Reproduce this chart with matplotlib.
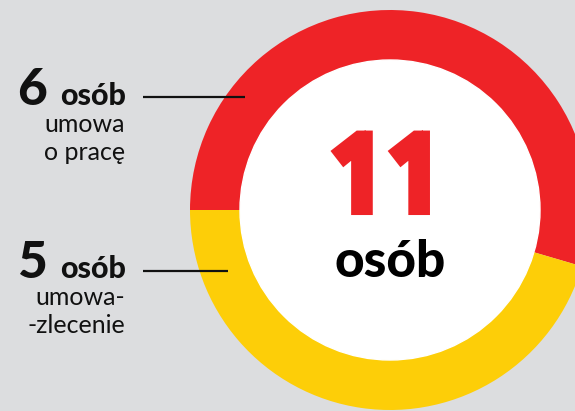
import matplotlib
matplotlib.use('Agg')
import matplotlib.pyplot as plt
import matplotlib.patheffects as pe
from matplotlib.patches import Circle

# data
values = [6, 5]
colors = ['#ee2327', '#fdce08']
unit = 'osób'
descriptions = ['umowa\no pracę', 'umowa-\n-zlecenie']
total = sum(values)

BG = '#dcdddf'
W, H = 575, 411
cx, cy = 390, H - 210
r_out, r_in = 200, 150

plt.rcParams['font.family'] = ['Lato', 'DejaVu Sans']

fig = plt.figure(figsize=(W / 100, H / 100), dpi=100, facecolor=BG)
ax = fig.add_axes([0, 0, 1, 1])
ax.set_facecolor(BG)

ax.pie(values, colors=colors, startangle=180, counterclock=False,
       center=(cx, cy), radius=r_out, wedgeprops=dict(linewidth=0))
ax.add_patch(Circle((cx, cy), r_in, color='white', zorder=3))

ax.set_xlim(0, W)
ax.set_ylim(0, H)
ax.set_aspect('equal')
ax.axis('off')

# centre text (regular face thickened with a stroke)
ax.text(cx - 2, H - 208.5, str(total), color=colors[0], fontsize=72,
        family=['Noto Sans', 'DejaVu Sans'],
        ha='center', va='baseline', zorder=4,
        path_effects=[pe.withStroke(linewidth=9.4, foreground=colors[0],
                                    capstyle='butt', joinstyle='miter')])
ax.text(cx, H - 277, unit, color='black', fontsize=37,
        fontweight='black', ha='center', va='baseline', zorder=4)

# side labels
label_y = [H - 105, H - 278]
line_y = [H - 97, H - 271]
line_end = [245, 228]
for v, desc, ly, lny, le in zip(values, descriptions, label_y, line_y, line_end):
    ax.text(17, ly, str(v), fontsize=37, fontweight='black',
            ha='left', va='baseline', color='#111111')
    ax.text(126, ly, unit, fontsize=22, fontweight='black',
            ha='right', va='baseline', color='#111111')
    for i, part in enumerate(desc.split('\n')):
        ax.text(125, ly - 27 - 28 * i, part, fontsize=18,
                ha='right', va='baseline', color='#111111')
    ax.plot([143, le], [lny, lny], color='#111111', lw=1.6, zorder=5,
            solid_capstyle='butt')

fig.savefig('out.png', dpi=100, facecolor=BG)
